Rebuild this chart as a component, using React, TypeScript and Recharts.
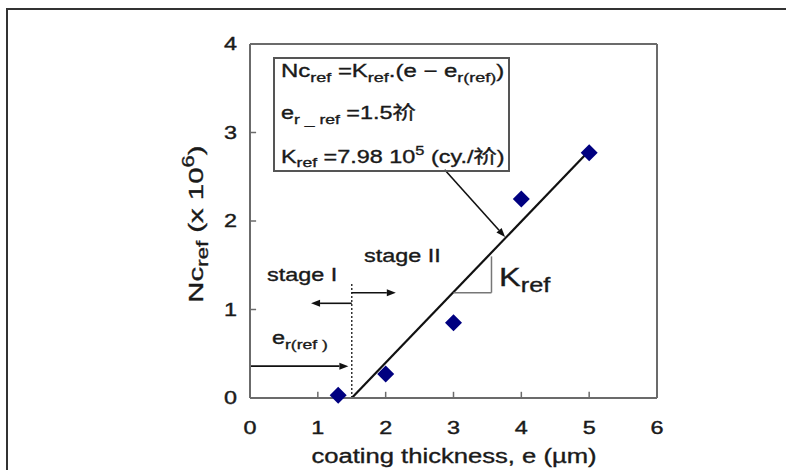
import React from 'react'
import { ComposedChart, Scatter, XAxis, YAxis, ReferenceLine } from 'recharts'

// measured points: coating thickness (µm) vs Nc_ref (x10^6)
const thickness = [1.3, 2, 3, 4, 5]
const ncRef = [0.03, 0.27, 0.85, 2.25, 2.77]

const xTicks = [0, 1, 2, 3, 4, 5, 6]
const yTicks = [0, 1, 2, 3, 4]

// fitted line Nc = K.(e - er), K = 0.798 (x10^6 per µm), er = 1.5
const erRef = 1.5
const kRef = 0.798
const fitEnd = 5

const points = thickness.map((x, i) => ({ x, y: ncRef[i] }))

const AXIS = '#6b6b6b'
const FONT = '"Liberation Sans", Arial, sans-serif'
const SX = 1.3 // the source text is drawn wide

const Diamond = (props: any) => {
  const { cx, cy } = props
  const h = 8.5
  return (
    <polygon
      points={`${cx},${cy - h} ${cx + h},${cy} ${cx},${cy + h} ${cx - h},${cy}`}
      fill="#000080"
    />
  )
}

const Arrow = (props: any) => {
  const { x1, y1, x2, y2 } = props
  const a = Math.atan2(y2 - y1, x2 - x1)
  const len = 9
  const w = 3.5
  const bx = x2 - len * Math.cos(a)
  const by = y2 - len * Math.sin(a)
  const px = -Math.sin(a) * w
  const py = Math.cos(a) * w
  return (
    <g>
      <line x1={x1} y1={y1} x2={bx} y2={by} stroke="#111" strokeWidth={1.6} />
      <polygon points={`${x2},${y2} ${bx + px},${by + py} ${bx - px},${by - py}`} fill="#111" />
    </g>
  )
}

const XTick = (props: any) => {
  const { x, y, payload } = props
  return (
    <text transform={`translate(${x} ${y}) scale(${SX} 1)`} textAnchor="middle" dy="0.71em" fill="#1a1a1a" stroke="#1a1a1a" strokeWidth={0.4} fontSize={18} fontFamily={FONT}>
      {payload.value}
    </text>
  )
}

const YTick = (props: any) => {
  const { x, y, payload } = props
  return (
    <text transform={`translate(${x} ${y}) scale(${SX} 1)`} textAnchor="end" dy="0.36em" fill="#1a1a1a" stroke="#1a1a1a" strokeWidth={0.4} fontSize={18} fontFamily={FONT}>
      {payload.value}
    </text>
  )
}

const sub = { fontSize: '0.75em', verticalAlign: '-0.35em' }
const cjk = { fontFamily: '"Noto Sans CJK SC"' }

function Wide({ children, sx = SX }: { children: React.ReactNode; sx?: number }) {
  return <span style={{ display: 'inline-block', transform: `scaleX(${sx})`, transformOrigin: 'left center', whiteSpace: 'nowrap' }}>{children}</span>
}

export default function App() {
  return (
    <div style={{ position: 'absolute', left: 0, top: 0, width: 786, height: 470, background: '#fff', fontFamily: FONT, color: '#1a1a1a', WebkitTextStroke: '0.35px #1a1a1a' }}>
      <div style={{ position: 'absolute', left: 6, top: 8, width: 780, height: 462, borderTop: '2px solid #333', borderLeft: '2px solid #333' }} />
      <ComposedChart width={786} height={470} margin={{ top: 44, right: 129, bottom: 32, left: 210 }} style={{ position: 'absolute', left: 0, top: 0 }}>
        <XAxis
          type="number"
          dataKey="x"
          domain={[0, 6]}
          ticks={xTicks}
          tickLine={false}
          tickSize={0}
          tickMargin={23}
          height={40}
          axisLine={{ stroke: AXIS, strokeWidth: 2 }}
          tick={<XTick />}
        />
        <YAxis
          type="number"
          dataKey="y"
          domain={[0, 4]}
          ticks={yTicks}
          tickLine={false}
          tickSize={0}
          tickMargin={13}
          width={40}
          axisLine={{ stroke: AXIS, strokeWidth: 2 }}
          tick={<YTick />}
        />
        <ReferenceLine x={6} stroke={AXIS} strokeWidth={2} />
        <ReferenceLine y={4} stroke={AXIS} strokeWidth={2} />
        {xTicks.slice(1, -1).map((t) => (
          <ReferenceLine key={'xt' + t} segment={[{ x: t, y: 0 }, { x: t, y: 0.07 }]} stroke={AXIS} strokeWidth={1.5} />
        ))}
        {yTicks.slice(1, -1).map((t) => (
          <ReferenceLine key={'yt' + t} segment={[{ x: 0, y: t }, { x: 0.09, y: t }]} stroke={AXIS} strokeWidth={1.5} />
        ))}
        {/* stage boundary */}
        <ReferenceLine segment={[{ x: erRef, y: 0 }, { x: erRef, y: 1.31 }]} stroke="#333" strokeWidth={1.5} strokeDasharray="2 2" />
        {/* fitted line */}
        <ReferenceLine segment={[{ x: erRef, y: 0 }, { x: fitEnd, y: kRef * (fitEnd - erRef) }]} stroke="#111" strokeWidth={2.2} />
        {/* K_ref slope triangle */}
        <ReferenceLine segment={[{ x: 3.0, y: 1.19 }, { x: 3.56, y: 1.19 }]} stroke="#777" strokeWidth={1.5} />
        <ReferenceLine segment={[{ x: 3.56, y: 1.19 }, { x: 3.56, y: 1.6 }]} stroke="#777" strokeWidth={1.5} />
        {/* arrows */}
        <ReferenceLine segment={[{ x: erRef, y: 1.07 }, { x: 0.9, y: 1.07 }]} shape={Arrow} />
        <ReferenceLine segment={[{ x: erRef, y: 1.19 }, { x: 2.15, y: 1.19 }]} shape={Arrow} />
        <ReferenceLine segment={[{ x: 0, y: 0.36 }, { x: 1.45, y: 0.36 }]} shape={Arrow} />
        <ReferenceLine segment={[{ x: 2.87, y: 2.58 }, { x: 3.76, y: 1.82 }]} shape={Arrow} />
        <Scatter data={points} shape={Diamond} isAnimationActive={false} />
      </ComposedChart>

      {/* equation box */}
      <div style={{ position: 'absolute', left: 273, top: 57, width: 233, height: 111, border: '2px solid #555', fontSize: 18, lineHeight: '20px', WebkitTextStroke: '0px' }}>
        <div style={{ position: 'absolute', left: 6, top: 2, WebkitTextStroke: '0.35px #1a1a1a' }}>
          <Wide sx={1.33}>
            Nc<span style={sub}>ref</span> =K<span style={sub}>ref</span>.(e − e<span style={sub}>r(ref)</span>)
          </Wide>
        </div>
        <div style={{ position: 'absolute', left: 6, top: 42, WebkitTextStroke: '0.35px #1a1a1a' }}>
          <Wide>
            e<span style={sub}>r _ ref</span> =1.5<span style={cjk}>祄</span>
          </Wide>
        </div>
        <div style={{ position: 'absolute', left: 6, top: 82, WebkitTextStroke: '0.35px #1a1a1a' }}>
          <Wide>
            K<span style={sub}>ref</span> =7.98 10<sup style={{ fontSize: '0.7em', verticalAlign: '0.6em' }}>5</sup> (cy./<span style={cjk}>祄</span>)
          </Wide>
        </div>
      </div>

      <div style={{ position: 'absolute', left: 267, top: 265, fontSize: 18 }}><Wide>stage I</Wide></div>
      <div style={{ position: 'absolute', left: 364, top: 246, fontSize: 18 }}><Wide>stage II</Wide></div>
      <div style={{ position: 'absolute', left: 272, top: 328, fontSize: 18 }}>
        <Wide>e<span style={sub}>r(ref )</span></Wide>
      </div>
      <div style={{ position: 'absolute', left: 499, top: 263, fontSize: 25 }}>
        <Wide>K<span style={{ fontSize: '0.78em', verticalAlign: '-0.3em' }}>ref</span></Wide>
      </div>

      {/* axis titles */}
      <div style={{ position: 'absolute', left: 454, top: 456, transform: 'translate(-50%, -50%) scaleX(1.28)', fontSize: 20, whiteSpace: 'nowrap' }}>
        coating thickness, e (µm)
      </div>
      <div style={{ position: 'absolute', left: 196, top: 224, transform: 'translate(-50%, -50%) rotate(-90deg) scaleX(1.4)', fontSize: 21, whiteSpace: 'nowrap' }}>
        Nc<span style={sub}>ref</span> (x 10<sup style={{ fontSize: '0.75em', verticalAlign: '0.6em' }}>6</sup>)
      </div>
    </div>
  )
}
